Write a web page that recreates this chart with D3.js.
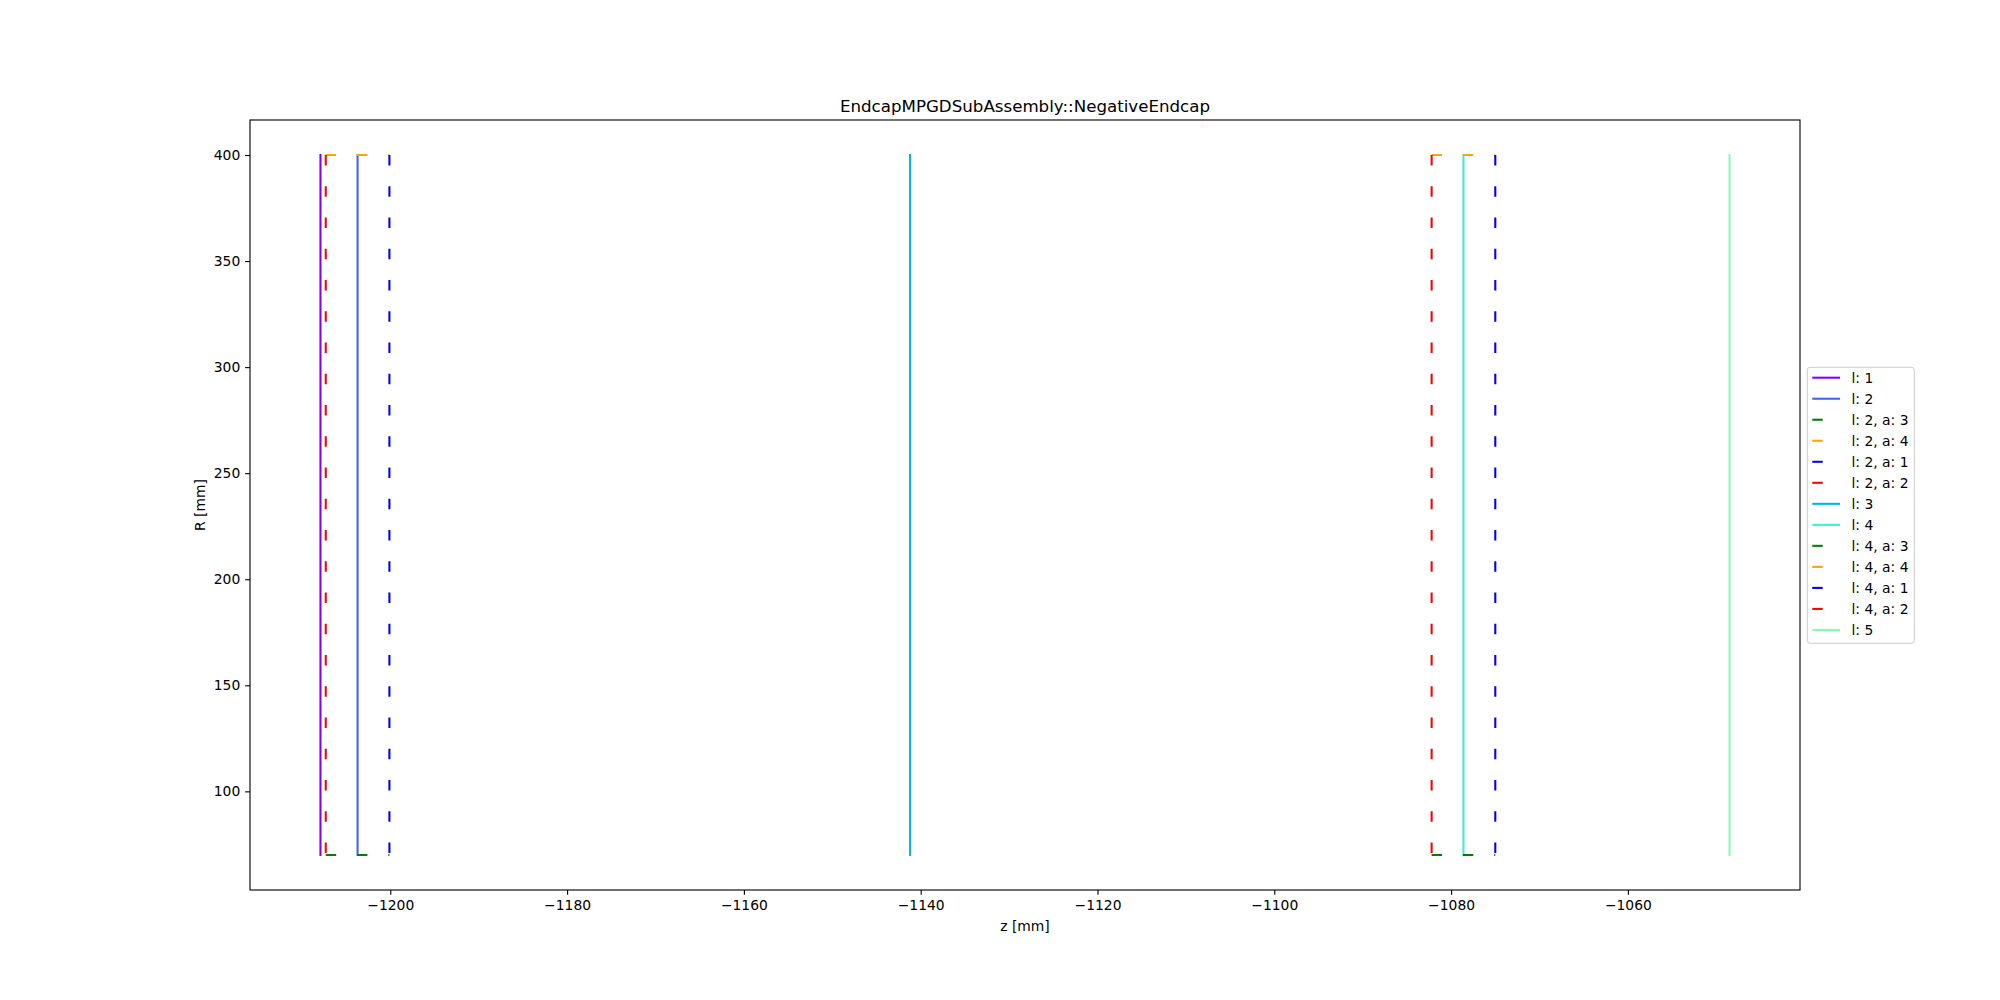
<!DOCTYPE html>
<html>
<head>
<meta charset="utf-8">
<script src="https://cdn.jsdelivr.net/npm/d3@7"></script>
<style>
  html, body { margin: 0; padding: 0; background: #fff; }
  svg { display: block; font-family: "DejaVu Sans", sans-serif; }
</style>
</head>
<body>
<svg id="chart" width="2000" height="1000"></svg>
<script>
// ---------------- data ----------------
const layerNames  = ["l: 1", "l: 2", "l: 3", "l: 4", "l: 5"];
const layerZ      = [-1207.9, -1203.7, -1141.2, -1078.6, -1048.5];
const layerRmin   = [70, 70, 70, 70, 70];
const layerRmax   = [400, 400, 400, 400, 400];
const layerColors = ["#8000ff", "#4062fa", "#00b4eb", "#40ecd4", "#80ffb4"];

// module outlines (layers 2 and 4): a:1 right side, a:2 left side, a:3 bottom, a:4 top
const outlineLayers = ["2", "4"];
const outlineZmin   = [-1207.3, -1082.2];
const outlineZmax   = [-1200.1, -1075.0];
const outlineRmin   = [70, 70];
const outlineRmax   = [400, 400];
const outlineOrder  = ["3", "4", "1", "2"];
const outlineColors = { "1": "blue", "2": "red", "3": "green", "4": "orange" };

const xTicks = [-1200, -1180, -1160, -1140, -1120, -1100, -1080, -1060];
const yTicks = [100, 150, 200, 250, 300, 350, 400];

const titleText = "EndcapMPGDSubAssembly::NegativeEndcap";
const xLabel = "z [mm]";
const yLabel = "R [mm]";

// ---------------- layout ----------------
const W = 2000, H = 1000;
const plot = { left: 250, right: 1800, top: 120, bottom: 890 };
const pt = 100 / 72;
const lw = 1.5 * pt;
const dash = `${5 * lw} ${10 * lw}`;

const svg = d3.select("#chart");

// build segment list in drawing order
const segments = [];
layerNames.forEach((name, i) => {
  segments.push({ label: name, color: layerColors[i], dashed: false,
    pts: [[layerZ[i], layerRmin[i]], [layerZ[i], layerRmax[i]]] });
  const oi = outlineLayers.indexOf(String(i + 1));
  if (oi >= 0) {
    outlineOrder.forEach(a => {
      const z0 = outlineZmin[oi], z1 = outlineZmax[oi], r0 = outlineRmin[oi], r1 = outlineRmax[oi];
      let p;
      if (a === "1") p = [[z1, r1], [z1, r0]];
      else if (a === "2") p = [[z0, r1], [z0, r0]];
      else if (a === "3") p = [[z0, r0], [z1, r0]];
      else p = [[z0, r1], [z1, r1]];
      segments.push({ label: `${name}, a: ${a}`, color: outlineColors[a], dashed: true, pts: p });
    });
  }
});

// scales with matplotlib-style 5% margins
const allZ = segments.flatMap(s => s.pts.map(p => p[0]));
const allR = segments.flatMap(s => s.pts.map(p => p[1]));
const zExt = d3.extent(allZ), rExt = d3.extent(allR);
const zPad = (zExt[1] - zExt[0]) * 0.05, rPad = (rExt[1] - rExt[0]) * 0.05;
const x = d3.scaleLinear().domain([zExt[0] - zPad, zExt[1] + zPad]).range([plot.left, plot.right]);
const y = d3.scaleLinear().domain([rExt[0] - rPad, rExt[1] + rPad]).range([plot.bottom, plot.top]);

// clip
svg.append("defs").append("clipPath").attr("id", "clip")
  .append("rect").attr("x", plot.left).attr("y", plot.top)
  .attr("width", plot.right - plot.left).attr("height", plot.bottom - plot.top);

const line = d3.line().x(d => x(d[0])).y(d => y(d[1]));
const gLines = svg.append("g").attr("clip-path", "url(#clip)");
segments.forEach(s => {
  gLines.append("path")
    .attr("d", line(s.pts))
    .attr("fill", "none")
    .attr("stroke", s.color)
    .attr("stroke-width", lw)
    .attr("stroke-linecap", s.dashed ? "butt" : "square")
    .attr("stroke-dasharray", s.dashed ? dash : null);
});

// axes
const tickLen = 3.5 * pt;
const fmt = d3.format("d");
const xAxis = d3.axisBottom(x).tickValues(xTicks).tickFormat(fmt).tickSize(tickLen).tickPadding(3.5 * pt).tickSizeOuter(0);
const yAxis = d3.axisLeft(y).tickValues(yTicks).tickFormat(fmt).tickSize(tickLen).tickPadding(3.5 * pt).tickSizeOuter(0);

const gx = svg.append("g").attr("transform", `translate(0,${plot.bottom})`).call(xAxis);
const gy = svg.append("g").attr("transform", `translate(${plot.left},0)`).call(yAxis);
[gx, gy].forEach(g => {
  g.select(".domain").remove();
  g.selectAll(".tick line").attr("stroke", "#000").attr("stroke-width", 0.8 * pt);
  g.selectAll(".tick text").attr("fill", "#000").style("font-size", `${10 * pt}px`)
    .style("font-family", "DejaVu Sans, sans-serif");
});

// frame
svg.append("rect")
  .attr("x", plot.left).attr("y", plot.top)
  .attr("width", plot.right - plot.left).attr("height", plot.bottom - plot.top)
  .attr("fill", "none").attr("stroke", "#000").attr("stroke-width", 0.8 * pt);

// labels
svg.append("text").attr("x", (plot.left + plot.right) / 2).attr("y", 931)
  .attr("text-anchor", "middle").style("font-size", `${10 * pt}px`).text(xLabel);
svg.append("text").attr("transform", `translate(205,${(plot.top + plot.bottom) / 2}) rotate(-90)`)
  .attr("text-anchor", "middle").style("font-size", `${10 * pt}px`).text(yLabel);
svg.append("text").attr("x", (plot.left + plot.right) / 2).attr("y", 112)
  .attr("text-anchor", "middle").style("font-size", `${12 * pt}px`).text(titleText);

// legend
const leg = { x: 1807.3, y: 367.3, w: 107, h: 276, row: 21.02, first: 377.7 };
const gL = svg.append("g");
gL.append("rect").attr("x", leg.x).attr("y", leg.y).attr("width", leg.w).attr("height", leg.h)
  .attr("rx", 2.8).attr("ry", 2.8)
  .attr("fill", "#fff").attr("fill-opacity", 0.8)
  .attr("stroke", "#cccccc").attr("stroke-width", 1);
segments.forEach((s, i) => {
  const cy = leg.first + i * leg.row;
  gL.append("line")
    .attr("x1", 1812.3).attr("x2", 1812.3 + 20 * pt)
    .attr("y1", cy).attr("y2", cy)
    .attr("stroke", s.color).attr("stroke-width", lw)
    .attr("stroke-linecap", "butt")
    .attr("stroke-dasharray", s.dashed ? dash : null);
  gL.append("text").attr("x", 1851.5).attr("y", cy).attr("dy", "0.36em")
    .style("font-size", `${10 * pt}px`).text(s.label);
});
</script>
</body>
</html>
